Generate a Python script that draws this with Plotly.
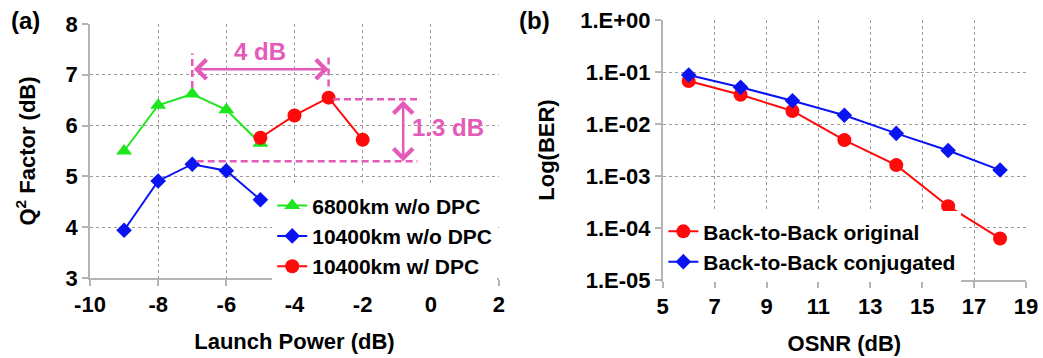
import plotly.graph_objects as go

# ---------- data ----------
launch_power = [-9, -8, -7, -6, -5]
q_6800_wo = [5.50, 6.40, 6.62, 6.31, 5.65]
q_10400_wo = [3.94, 4.91, 5.24, 5.11, 4.54]
launch_power_dpc = [-5, -4, -3, -2]
q_10400_w = [5.76, 6.20, 6.55, 5.72]

launch_tickvals = [-10, -8, -6, -4, -2, 0, 2]
launch_ticktext = ["-10", "-8", "-6", "-4", "-2", "0", "2"]

osnr = [6, 8, 10, 12, 14, 16, 18]
ber_original = [0.067, 0.0366, 0.0178, 0.0049, 0.00162, 0.000263, 0.000063]
ber_conjugated = [0.0875, 0.0507, 0.028, 0.0147, 0.0066, 0.0031, 0.0013]

ber_tickvals = [1e-5, 1e-4, 1e-3, 1e-2, 1e-1, 1e0]
ber_ticktext = ["1.E-05", "1.E-04", "1.E-03", "1.E-02", "1.E-01", "1.E+00"]
osnr_ticks = [5, 7, 9, 11, 13, 15, 17, 19]

# annotation geometry (data coordinates of panel a)
opt_wo_x, opt_w_x = -7, -3
gap_arrow_y = 7.11
peak_w, peak_wo = 6.52, 5.30
vert_arrow_x = -0.81

PINK = "#E45AB9"
FONT = "Liberation Sans, Arial, sans-serif"
GRID = "#9a9a9a"
AXL = "#b4b4b4"

fig = go.Figure()

fig.add_trace(go.Scatter(x=launch_power, y=q_6800_wo, mode="lines+markers",
                         name="6800km w/o DPC", legend="legend",
                         line=dict(color="#1EE61E", width=2),
                         marker=dict(symbol="triangle-up", size=14, color="#1EE61E"),
                         xaxis="x", yaxis="y"))
fig.add_trace(go.Scatter(x=launch_power, y=q_10400_wo, mode="lines+markers",
                         name="10400km w/o DPC", legend="legend",
                         line=dict(color="#0A14F0", width=2),
                         marker=dict(symbol="diamond", size=12, color="#0A14F0"),
                         xaxis="x", yaxis="y"))
fig.add_trace(go.Scatter(x=launch_power_dpc, y=q_10400_w, mode="lines+markers",
                         name="10400km w/ DPC", legend="legend",
                         line=dict(color="#FF0A0A", width=2),
                         marker=dict(symbol="circle", size=14, color="#FF0A0A"),
                         xaxis="x", yaxis="y"))

fig.add_trace(go.Scatter(x=osnr, y=ber_original, mode="lines+markers",
                         name="Back-to-Back original", legend="legend2",
                         line=dict(color="#FF0A0A", width=2),
                         marker=dict(symbol="circle", size=14, color="#FF0A0A"),
                         xaxis="x2", yaxis="y2"))
fig.add_trace(go.Scatter(x=osnr, y=ber_conjugated, mode="lines+markers",
                         name="Back-to-Back conjugated", legend="legend2",
                         line=dict(color="#0A14F0", width=2),
                         marker=dict(symbol="diamond", size=12, color="#0A14F0"),
                         xaxis="x2", yaxis="y2"))

tickfont = dict(family=FONT, size=22, color="black", weight="bold")
titlefont = dict(family=FONT, size=22, color="black", weight="bold")

common = dict(showline=True, linecolor=AXL, linewidth=1.5, ticks="outside",
              ticklen=6, tickcolor=AXL, tickwidth=1.5, showgrid=True,
              gridcolor=GRID, griddash="3px,3px", gridwidth=1, zeroline=False,
              tickfont=tickfont, automargin=False)

fig.update_layout(
    template="none",
    width=1043, height=358,
    margin=dict(l=0, r=0, t=0, b=0),
    paper_bgcolor="white", plot_bgcolor="white",
    showlegend=True,
    xaxis=dict(domain=[0.0863, 0.4784], range=[-10, 2],
               tickvals=launch_tickvals, ticktext=launch_ticktext,
               title=dict(text="Launch Power (dB)", font=titlefont, standoff=17),
               anchor="y", **common),
    yaxis=dict(domain=[0.2235, 0.933], range=[3, 8], dtick=1,
               title=dict(text="Q<sup>2</sup> Factor (dB)", font=titlefont, standoff=24),
               anchor="x", **common),
    xaxis2=dict(domain=[0.6354, 0.9837], range=[5, 19], tickvals=osnr_ticks,
                title=dict(text="OSNR (dB)", font=titlefont, standoff=17),
                anchor="y2", **common),
    yaxis2=dict(domain=[0.2179, 0.9441], type="log", range=[-5, 0],
                tickvals=ber_tickvals, ticktext=ber_ticktext,
                title=dict(text="Log(BER)", font=titlefont, standoff=20),
                anchor="x2", **common),
    legend=dict(x=0.261, y=0.482, xanchor="left", yanchor="top",
                bgcolor="white", borderwidth=0, tracegroupgap=0,
                font=dict(family=FONT, size=21, color="black", weight="bold")),
    legend2=dict(x=0.636, y=0.41, xanchor="left", yanchor="top",
                 bgcolor="white", borderwidth=0, tracegroupgap=0,
                 font=dict(family=FONT, size=21, color="black", weight="bold")),
)

# pink dashed guides in panel (a)
dash_line = dict(color=PINK, width=2.5, dash="7px,4px")
fig.add_shape(type="line", xref="x", yref="y", x0=opt_wo_x, x1=opt_wo_x, y0=6.74, y1=7.42, line=dash_line)
fig.add_shape(type="line", xref="x", yref="y", x0=opt_w_x, x1=opt_w_x, y0=6.77, y1=7.42, line=dash_line)
fig.add_shape(type="line", xref="x", yref="y", x0=-2.87, x1=-0.39, y0=peak_w, y1=peak_w, line=dash_line)
fig.add_shape(type="line", xref="x", yref="y", x0=-6.87, x1=-0.39, y0=peak_wo, y1=peak_wo, line=dash_line)

# double arrows
fig.add_annotation(x=opt_w_x, y=gap_arrow_y, ax=opt_wo_x, ay=gap_arrow_y,
                   xref="x", yref="y", axref="x", ayref="y", text="",
                   showarrow=True, arrowhead=4, startarrowhead=4, arrowside="end+start",
                   arrowsize=1.5, startarrowsize=1.5, arrowwidth=2.5, arrowcolor=PINK,
                   standoff=0, startstandoff=0)
fig.add_annotation(x=vert_arrow_x, y=peak_wo, ax=vert_arrow_x, ay=peak_w,
                   xref="x", yref="y", axref="x", ayref="y", text="",
                   showarrow=True, arrowhead=4, startarrowhead=4, arrowside="end+start",
                   arrowsize=1.5, startarrowsize=1.5, arrowwidth=2.5, arrowcolor=PINK,
                   standoff=0, startstandoff=0)

pinkfont = dict(family=FONT, size=24, color=PINK, weight="bold")
fig.add_annotation(x=-5, y=7.45, xref="x", yref="y", text="4 dB", showarrow=False, font=pinkfont)
fig.add_annotation(x=0.5, y=5.96, xref="x", yref="y", text="1.3 dB", showarrow=False, font=pinkfont)

# panel labels
labfont = dict(family=FONT, size=24, color="black", weight="bold")
fig.add_annotation(x=9 / 1043, y=1 - 21 / 358, xref="paper", yref="paper", text="(a)",
                   showarrow=False, xanchor="left", yanchor="middle", font=labfont)
fig.add_annotation(x=517 / 1043, y=1 - 20 / 358, xref="paper", yref="paper", text="(b)",
                   showarrow=False, xanchor="left", yanchor="middle", font=labfont)

fig.write_html("out.html")
